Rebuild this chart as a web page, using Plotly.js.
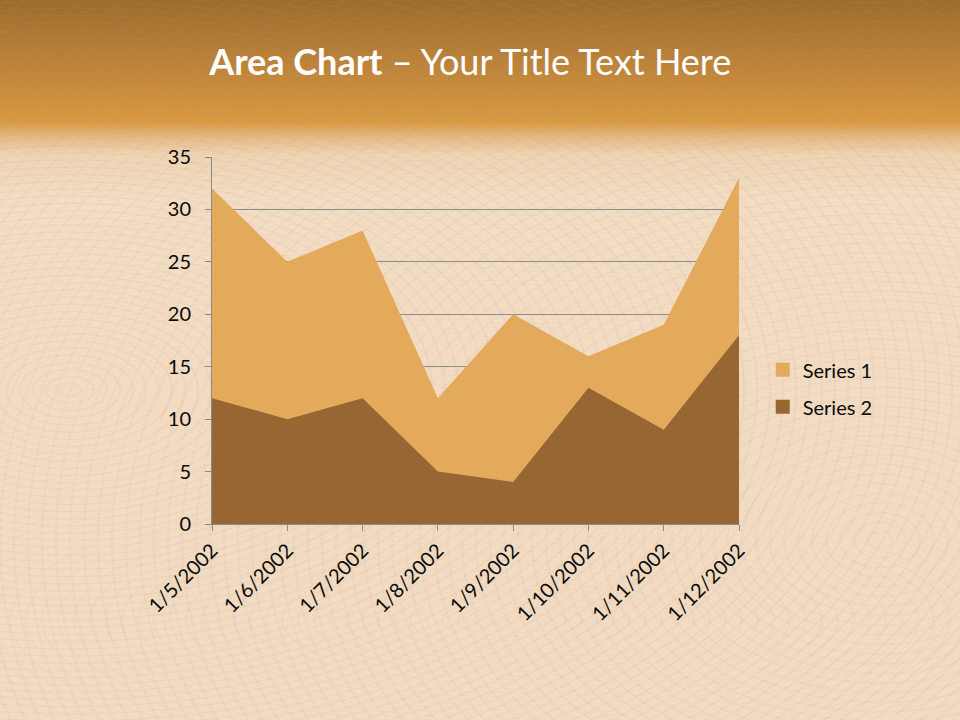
<!DOCTYPE html>
<html>
<head>
<meta charset="utf-8">
<script src="https://cdn.plot.ly/plotly-3.0.1.min.js"></script>
<style>
html, body { margin:0; padding:0; width:960px; height:720px; overflow:hidden; }
body {
  background:
    repeating-radial-gradient(ellipse 90px 50px at 70px 390px, rgba(170,150,140,0) 0px, rgba(170,150,140,0) 9px, rgba(170,150,140,0.11) 11px, rgba(170,150,140,0) 13px),
    repeating-radial-gradient(ellipse 260px 70px at 520px 620px, rgba(170,150,140,0) 0px, rgba(170,150,140,0) 12px, rgba(170,150,140,0.08) 14px, rgba(170,150,140,0) 16px),
    repeating-radial-gradient(ellipse 160px 110px at 880px 540px, rgba(170,150,140,0) 0px, rgba(170,150,140,0) 10px, rgba(170,150,140,0.09) 12px, rgba(170,150,140,0) 14px),
    linear-gradient(to bottom, #9C6C2B 0px, #B07A33 40px, #CB8C3C 90px, #D9993F 122px, #E6BC85 138px, #F0D5B4 155px, #F3DDC3 200px, #F2DBC0 720px);
}
#chart { width:960px; height:720px; position:absolute; left:0; top:0; }
</style>
</head>
<body>
<div id="chart"></div>
<script>
const categories = ["1/5/2002","1/6/2002","1/7/2002","1/8/2002","1/9/2002","1/10/2002","1/11/2002","1/12/2002"];
const series1 = [32, 25, 28, 12, 20, 16, 19, 33];
const series2 = [12, 10, 12, 5, 4, 13, 9, 18];
const seriesNames = ["Series 1", "Series 2"];
const colors = ["#E3AA5C", "#986632"];

const FONT = "Lato, 'Open Sans', sans-serif";

const traces = [
  {x: categories, y: series1, type: "scatter", mode: "lines", fill: "tozeroy",
   fillcolor: colors[0], line: {width: 0, color: colors[0]}, showlegend: false, hoverinfo: "skip"},
  {x: categories, y: series2, type: "scatter", mode: "lines", fill: "tozeroy",
   fillcolor: colors[1], line: {width: 0, color: colors[1]}, showlegend: false, hoverinfo: "skip"},
  {x: [null], y: [null], type: "scatter", mode: "markers", name: seriesNames[0], legendgroup: "a",
   marker: {symbol: "square", size: 14, color: colors[0]}, showlegend: true},
  {x: [null], y: [null], type: "scatter", mode: "markers", name: seriesNames[1], legendgroup: "b",
   marker: {symbol: "square", size: 14, color: colors[1]}, showlegend: true}
];

const layout = {
  width: 960, height: 720,
  margin: {l: 212, r: 221, t: 157, b: 196, pad: 0},
  paper_bgcolor: "rgba(0,0,0,0)",
  plot_bgcolor: "rgba(0,0,0,0)",
  font: {family: FONT, color: "#0A0A0A"},
  hovermode: false,
  showlegend: true,
  title: {
    text: "<b>Area Chart</b> – Your Title Text Here",
    font: {family: FONT, size: 36, color: "#FFFFFF"},
    x: 0.49, xanchor: "center", xref: "paper",
    y: 0.913, yanchor: "middle", yref: "container"
  },
  xaxis: {
    type: "category",
    range: [0, categories.length - 1],
    showgrid: false,
    showline: true, linecolor: "#8A8A8A", linewidth: 1,
    ticks: "outside", ticklen: 6, tickcolor: "#8A8A8A",
    tickangle: -45,
    tickfont: {family: FONT, size: 20, color: "#0A0A0A"},
    zeroline: false,
    fixedrange: true
  },
  yaxis: {
    range: [0, 35], dtick: 5, tick0: 0,
    showgrid: true, gridcolor: "#8C8C8C", gridwidth: 1,
    showline: true, linecolor: "#8A8A8A", linewidth: 1,
    ticks: "outside", ticklen: 6, tickcolor: "#8A8A8A",
    ticklabelstandoff: 10,
    tickfont: {family: FONT, size: 20, color: "#0A0A0A"},
    zeroline: false,
    fixedrange: true
  },
  legend: {
    x: 1.045, xanchor: "left", y: 0.37, yanchor: "middle",
    bgcolor: "rgba(0,0,0,0)",
    font: {family: FONT, size: 20, color: "#0A0A0A"},
    itemclick: false, itemdoubleclick: false,
    tracegroupgap: 8
  }
};

Plotly.newPlot("chart", traces, layout, {staticPlot: true, displayModeBar: false});
</script>
</body>
</html>
